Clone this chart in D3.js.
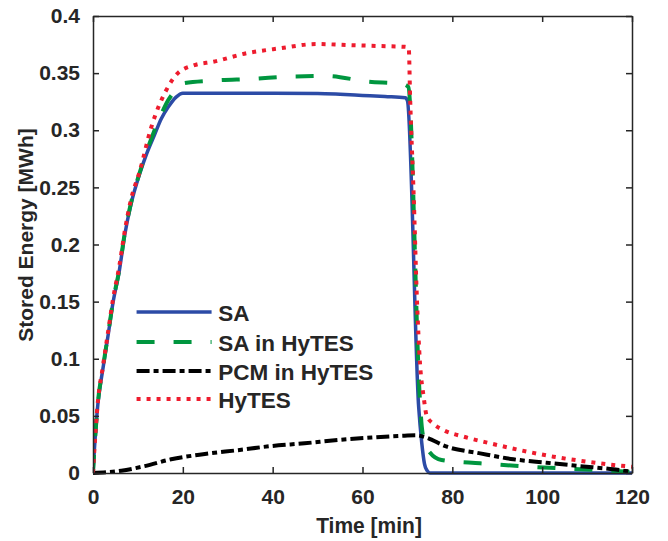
<!DOCTYPE html>
<html><head><meta charset="utf-8">
<script src="https://cdn.jsdelivr.net/npm/d3@7"></script>
<style>body{margin:0;background:#fff}svg{display:block}text{font-family:"Liberation Sans",Arial,sans-serif;fill:#262626}</style>
</head><body><svg id="c" width="668" height="541"></svg>
<script>
const seriesNames = ["SA", "SA in HyTES", "PCM in HyTES", "HyTES"];
const xTicks = [0, 20, 40, 60, 80, 100, 120];
const yTicks = [0, 0.05, 0.1, 0.15, 0.2, 0.25, 0.3, 0.35, 0.4];
const yTickLabels = ["0", "0.05", "0.1", "0.15", "0.2", "0.25", "0.3", "0.35", "0.4"];

const saTime  = [0, 0.3, 1.1, 2.2, 3.3, 4.45, 5.9, 7, 8.5, 10.4, 12, 13.7, 15.2, 16.7, 18.5, 20, 30, 40, 50, 55, 60, 65, 69.5, 70, 72.5, 73.2, 73.8, 74.4, 75, 80, 90, 100, 110, 120];
const saValue = [0, 0.02, 0.061, 0.091, 0.119, 0.149, 0.178, 0.207, 0.236, 0.262, 0.28, 0.296, 0.31, 0.32, 0.329, 0.3324, 0.3324, 0.3324, 0.3322, 0.3315, 0.3305, 0.3295, 0.3285, 0.326, 0.058, 0.026, 0.008, 0.002, 0, 0, 0, 0, 0, 0];

const saHyTime  = [0, 0.3, 1.1, 2.2, 3.3, 4.45, 5.9, 7, 8.5, 10.4, 12, 13.7, 15.2, 16.7, 18.9, 20, 26.8, 35.7, 43.9, 52, 61, 69, 70.2, 72.7, 73.2, 74, 75, 77.6, 86.2, 95.1, 104, 112.9, 120];
const saHyValue = [0, 0.02, 0.062, 0.092, 0.12, 0.15, 0.179, 0.208, 0.237, 0.263, 0.282, 0.300, 0.314, 0.326, 0.337, 0.341, 0.3435, 0.345, 0.347, 0.3475, 0.3427, 0.3405, 0.338, 0.07, 0.0405, 0.025, 0.018, 0.0114, 0.0085, 0.006, 0.0041, 0.0026, 0.001];

const pcmTime  = [0, 6.3, 11.5, 17.4, 24.9, 32.3, 39.7, 47.1, 54.6, 62, 69.4, 72, 73.6, 78.8, 86.2, 93.6, 101, 108.5, 115.9, 120];
const pcmValue = [0, 0.002, 0.006, 0.012, 0.0166, 0.020, 0.0236, 0.026, 0.0289, 0.031, 0.0327, 0.033, 0.0318, 0.023, 0.0172, 0.012, 0.009, 0.006, 0.0032, 0.001];

const hyTime  = [0, 0.3, 1.1, 2.2, 3.3, 4.45, 5.9, 7, 8.5, 10.4, 13, 16.3, 18.9, 22.6, 26.8, 34.2, 41.6, 49.8, 56.5, 63.9, 69.5, 70.3, 70.6, 71.4, 72.1, 72.8, 73.6, 74.3, 75.8, 78, 82.5, 88.4, 95.1, 102.5, 110, 115.9, 120];
const hyValue = [0, 0.02, 0.063, 0.093, 0.122, 0.152, 0.182, 0.21, 0.24, 0.264, 0.303, 0.335, 0.350, 0.357, 0.360, 0.3674, 0.3717, 0.3755, 0.3746, 0.3737, 0.373, 0.372, 0.329, 0.242, 0.154, 0.096, 0.067, 0.05, 0.043, 0.0376, 0.0318, 0.026, 0.020, 0.0143, 0.0099, 0.007, 0.0055];

const svg = d3.select("#c");
const L = 93, R = 632, T = 16, B = 473;
const x = d3.scaleLinear().domain([0, 120]).range([L, R]);
const y = d3.scaleLinear().domain([0, 0.4]).range([B, T]);
const axisColor = "#262626";

const styles = [
  {color: "#2C4BA6", width: 3.5, dash: null},
  {color: "#00963F", width: 4, dash: "18,19"},
  {color: "#000000", width: 4, dash: "13,4,5,4"},
  {color: "#EE1C2E", width: 4, dash: "4,6"}
];
const data = [
  d3.zip(saTime, saValue), d3.zip(saHyTime, saHyValue),
  d3.zip(pcmTime, pcmValue), d3.zip(hyTime, hyValue)
];

svg.append("defs").append("clipPath").attr("id","clip").append("rect")
  .attr("x", L).attr("y", T - 3).attr("width", R - L + 3).attr("height", B - T + 6);

const line = d3.line().x(d => x(d[0])).y(d => y(d[1])).curve(d3.curveMonotoneX);
const g = svg.append("g").attr("clip-path", "url(#clip)");
data.forEach((d, i) => {
  g.append("path").attr("d", line(d)).attr("fill", "none")
    .attr("stroke", styles[i].color).attr("stroke-width", styles[i].width)
    .attr("stroke-dasharray", styles[i].dash).attr("stroke-linejoin","round");
});

// axes (MATLAB box style, ticks inward)
const fs = 21;
const xb = svg.append("g").attr("transform", `translate(0,${B})`)
  .call(d3.axisBottom(x).tickValues(xTicks).tickSize(-6).tickPadding(16).tickSizeOuter(0));
const xt = svg.append("g").attr("transform", `translate(0,${T})`)
  .call(d3.axisTop(x).tickValues(xTicks).tickSize(-6).tickFormat("").tickSizeOuter(0));
const yl = svg.append("g").attr("transform", `translate(${L},0)`)
  .call(d3.axisLeft(y).tickValues(yTicks).tickSize(-6).tickPadding(13).tickFormat((d, i) => yTickLabels[i]).tickSizeOuter(0));
const yr = svg.append("g").attr("transform", `translate(${R},0)`)
  .call(d3.axisRight(y).tickValues(yTicks).tickSize(-6).tickFormat("").tickSizeOuter(0));
[xb, xt, yl, yr].forEach(a => {
  a.selectAll("path.domain").attr("stroke", axisColor).attr("stroke-width", 1.5);
  a.selectAll(".tick line").attr("stroke", axisColor).attr("stroke-width", 1.5);
  a.selectAll(".tick text").attr("font-size", fs).attr("font-weight", "bold")
    .attr("font-family", '"Liberation Sans", Arial, sans-serif').attr("fill", axisColor);
});

svg.append("text").attr("transform", `translate(${(L + R) / 2 + 6.5},533) scale(1,1.08)`).attr("text-anchor", "middle")
  .attr("font-size", fs).attr("font-weight", "bold").text("Time [min]");
svg.append("text").attr("transform", `translate(33,235) rotate(-90)`)
  .attr("text-anchor", "middle").attr("font-size", fs).attr("font-weight", "bold").text("Stored Energy [MWh]");

// legend
const legY = [312, 342, 371, 399];
seriesNames.forEach((n, i) => {
  svg.append("line").attr("x1", x(9.7)).attr("x2", x(26.4)).attr("y1", legY[i]).attr("y2", legY[i])
    .attr("stroke", styles[i].color).attr("stroke-width", styles[i].width).attr("stroke-dasharray", styles[i].dash);
  svg.append("text").attr("x", x(27.9)).attr("y", legY[i] + 9).attr("font-size", 22.5)
    .attr("font-weight", "bold").text(n);
});
</script></body></html>
